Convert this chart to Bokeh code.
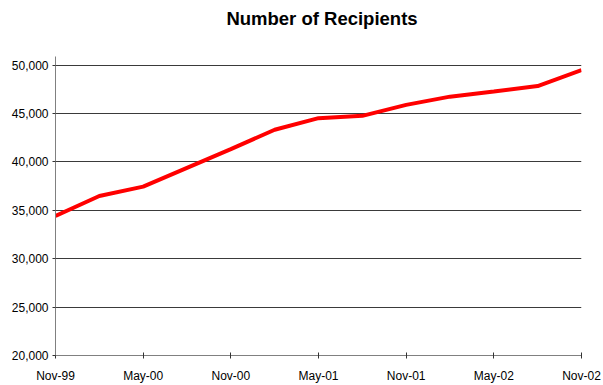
from bokeh.plotting import figure
from bokeh.models import FixedTicker, Range1d, NumeralTickFormatter, Div
from bokeh.layouts import column
from bokeh.embed import file_html
from bokeh.resources import INLINE

# Quarterly recipient counts, Nov-99 through Nov-02
months = ["Nov-99", "Feb-00", "May-00", "Aug-00", "Nov-00", "Feb-01", "May-01",
          "Aug-01", "Nov-01", "Feb-02", "May-02", "Aug-02", "Nov-02"]
recipients = [34430, 36480, 37450, 39390, 41330, 43330, 44530,
              44770, 45900, 46750, 47280, 47850, 49490]

# Axis tick labels (every six months)
tick_labels = ["Nov-99", "May-00", "Nov-00", "May-01", "Nov-01", "May-02", "Nov-02"]
y_ticks = [20000, 25000, 30000, 35000, 40000, 45000, 50000]

# month offset of each point from the first month
month_index = [3 * i for i in range(len(months))]
tick_index = [6 * i for i in range(len(tick_labels))]

FONT = "Liberation Sans"

# heading above the plot
heading = Div(text="Number of Recipients", width=603, height=38,
              styles={"font-family": FONT, "font-size": "18.5px",
                      "font-weight": "bold", "color": "black",
                      "text-align": "center", "line-height": "22px",
                      "padding-top": "8px", "padding-left": "41px",
                      "box-sizing": "border-box", "width": "603px",
                      "margin": "0"})

p = figure(width=603, height=347, output_backend="svg", toolbar_location=None,
           x_range=Range1d(0, 36), y_range=Range1d(20000, 50900),
           min_border_left=55, min_border_right=22,
           min_border_top=18, min_border_bottom=28)

p.outline_line_color = None
p.background_fill_color = "white"
p.border_fill_color = "white"

p.line(month_index, recipients, line_color="#ff0000", line_width=4)

# x axis
p.xaxis.ticker = FixedTicker(ticks=tick_index)
p.xaxis.major_label_overrides = {t: lab for t, lab in zip(tick_index, tick_labels)}
p.xaxis.minor_tick_line_color = None
p.xaxis.major_tick_in = 3
p.xaxis.major_tick_out = 3
p.xaxis.major_label_standoff = 10

# y axis
p.yaxis.ticker = FixedTicker(ticks=y_ticks)
p.yaxis.formatter = NumeralTickFormatter(format="0,0")
p.yaxis.minor_tick_line_color = None
p.yaxis.major_tick_in = 0
p.yaxis.major_tick_out = 3
p.yaxis.major_label_standoff = 4

for ax in (p.xaxis, p.yaxis):
    ax.axis_line_color = "#808080"
    ax.major_tick_line_color = "#333333"
    ax.major_label_text_font = FONT
    ax.major_label_text_font_size = "12px"
    ax.major_label_text_color = "black"

p.xgrid.grid_line_color = None
p.ygrid.ticker = FixedTicker(ticks=y_ticks)
p.ygrid.grid_line_color = "#3a3a3a"
p.ygrid.grid_line_width = 1

layout = column(heading, p, spacing=0)
open("out.html", "w").write(file_html(layout, INLINE))
